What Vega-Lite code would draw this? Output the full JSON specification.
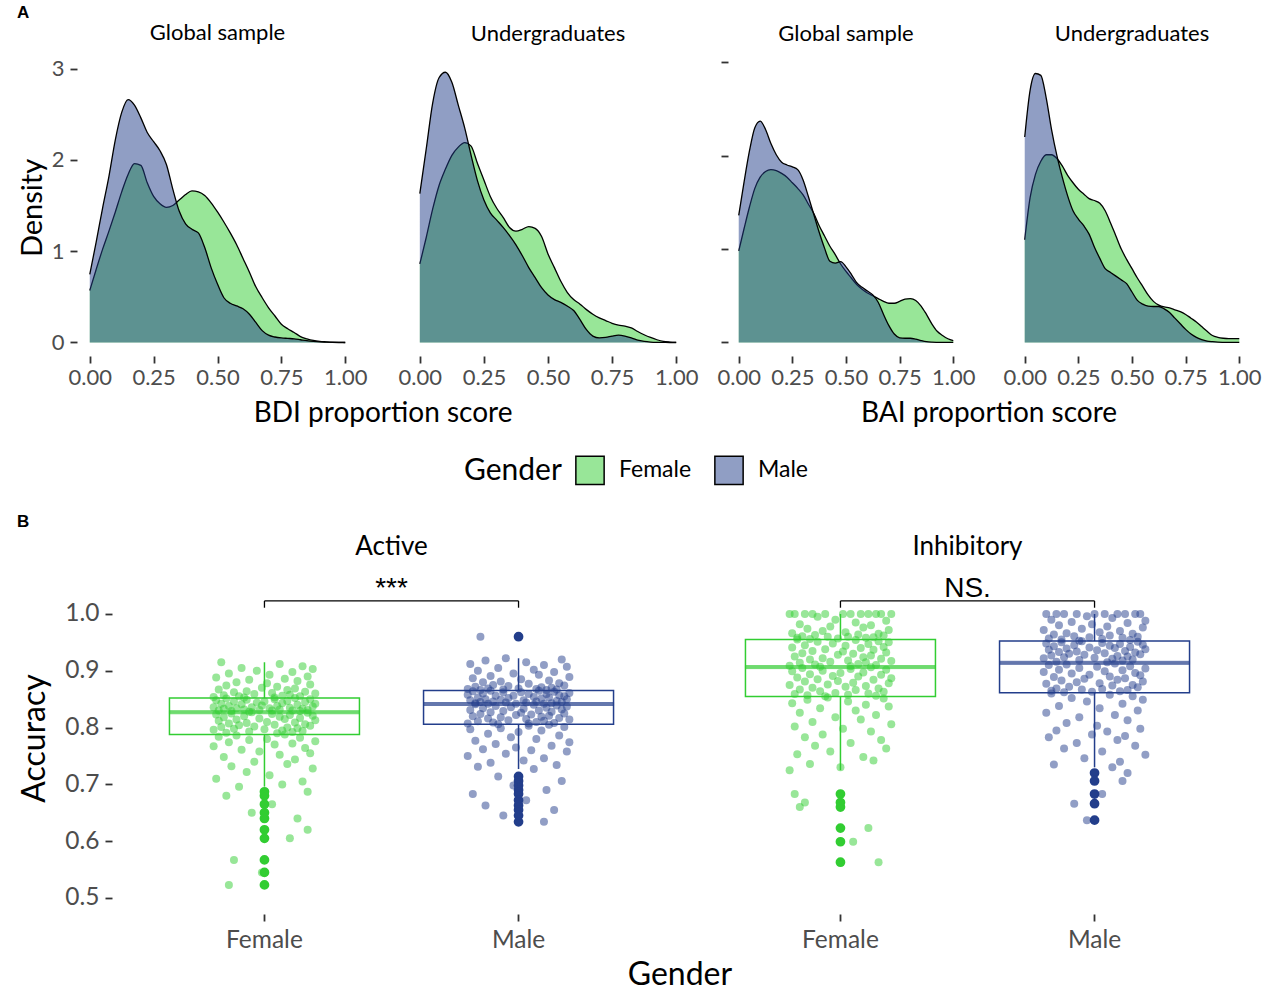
{
"$schema":"https://vega.github.io/schema/vega-lite/v6.json",
"padding":{"left":17,"top":3,"right":0,"bottom":0},
"align":"none",
"config":{"font":"Lato","view":{"stroke":null},
"axis":{"domain":false,"grid":false,"tickColor":"#333333","tickWidth":1.8,"labelColor":"#4D4D4D","titleColor":"#000000","titleFontWeight":"normal","labelFont":"Lato","titleFont":"Lato"},
"title":{"font":"Lato","fontWeight":"normal","color":"#000000"},
"legend":{"labelFont":"Lato","titleFont":"Lato"}},
"datasets":{
"p1":[
{"g":"F","x":0,"d":0.57},{"g":"F","x":0.025,"d":0.8},{"g":"F","x":0.05,"d":1.02},{"g":"F","x":0.075,"d":1.22},{"g":"F","x":0.1,"d":1.43},{"g":"F","x":0.125,"d":1.65},{"g":"F","x":0.15,"d":1.84},{"g":"F","x":0.175,"d":1.96},{"g":"F","x":0.2,"d":1.94},{"g":"F","x":0.225,"d":1.75},{"g":"F","x":0.25,"d":1.6},{"g":"F","x":0.275,"d":1.52},{"g":"F","x":0.3,"d":1.48},{"g":"F","x":0.325,"d":1.5},{"g":"F","x":0.35,"d":1.56},{"g":"F","x":0.375,"d":1.62},{"g":"F","x":0.4,"d":1.66},{"g":"F","x":0.425,"d":1.65},{"g":"F","x":0.45,"d":1.61},{"g":"F","x":0.475,"d":1.53},{"g":"F","x":0.5,"d":1.43},{"g":"F","x":0.525,"d":1.32},{"g":"F","x":0.55,"d":1.2},{"g":"F","x":0.575,"d":1.07},{"g":"F","x":0.6,"d":0.92},{"g":"F","x":0.625,"d":0.77},{"g":"F","x":0.65,"d":0.61},{"g":"F","x":0.675,"d":0.49},{"g":"F","x":0.7,"d":0.38},{"g":"F","x":0.725,"d":0.29},{"g":"F","x":0.75,"d":0.2},{"g":"F","x":0.775,"d":0.15},{"g":"F","x":0.8,"d":0.11},{"g":"F","x":0.825,"d":0.065},{"g":"F","x":0.85,"d":0.04},{"g":"F","x":0.875,"d":0.022},{"g":"F","x":0.9,"d":0.012},{"g":"F","x":0.925,"d":0.007},{"g":"F","x":0.95,"d":0.003},{"g":"F","x":0.975,"d":0.001},{"g":"F","x":1,"d":0},
{"g":"M","x":0,"d":0.745},{"g":"M","x":0.025,"d":1.1},{"g":"M","x":0.05,"d":1.47},{"g":"M","x":0.075,"d":1.82},{"g":"M","x":0.1,"d":2.22},{"g":"M","x":0.125,"d":2.52},{"g":"M","x":0.15,"d":2.66},{"g":"M","x":0.175,"d":2.6},{"g":"M","x":0.2,"d":2.46},{"g":"M","x":0.225,"d":2.3},{"g":"M","x":0.25,"d":2.2},{"g":"M","x":0.275,"d":2.1},{"g":"M","x":0.3,"d":1.95},{"g":"M","x":0.325,"d":1.68},{"g":"M","x":0.35,"d":1.44},{"g":"M","x":0.375,"d":1.3},{"g":"M","x":0.4,"d":1.24},{"g":"M","x":0.425,"d":1.2},{"g":"M","x":0.45,"d":1.04},{"g":"M","x":0.475,"d":0.82},{"g":"M","x":0.5,"d":0.64},{"g":"M","x":0.525,"d":0.49},{"g":"M","x":0.55,"d":0.43},{"g":"M","x":0.575,"d":0.4},{"g":"M","x":0.6,"d":0.37},{"g":"M","x":0.625,"d":0.31},{"g":"M","x":0.65,"d":0.22},{"g":"M","x":0.675,"d":0.13},{"g":"M","x":0.7,"d":0.08},{"g":"M","x":0.725,"d":0.06},{"g":"M","x":0.75,"d":0.05},{"g":"M","x":0.775,"d":0.045},{"g":"M","x":0.8,"d":0.04},{"g":"M","x":0.825,"d":0.03},{"g":"M","x":0.85,"d":0.02},{"g":"M","x":0.875,"d":0.012},{"g":"M","x":0.9,"d":0.006},{"g":"M","x":0.925,"d":0.003},{"g":"M","x":0.95,"d":0.001},{"g":"M","x":0.975,"d":0},{"g":"M","x":1,"d":0}],
"p2":[
{"g":"F","x":0,"d":0.86},{"g":"F","x":0.025,"d":1.15},{"g":"F","x":0.05,"d":1.46},{"g":"F","x":0.075,"d":1.72},{"g":"F","x":0.1,"d":1.9},{"g":"F","x":0.125,"d":2.05},{"g":"F","x":0.15,"d":2.14},{"g":"F","x":0.175,"d":2.19},{"g":"F","x":0.2,"d":2.15},{"g":"F","x":0.225,"d":1.96},{"g":"F","x":0.25,"d":1.78},{"g":"F","x":0.275,"d":1.6},{"g":"F","x":0.3,"d":1.47},{"g":"F","x":0.325,"d":1.37},{"g":"F","x":0.35,"d":1.26},{"g":"F","x":0.375,"d":1.22},{"g":"F","x":0.4,"d":1.24},{"g":"F","x":0.425,"d":1.27},{"g":"F","x":0.45,"d":1.25},{"g":"F","x":0.475,"d":1.16},{"g":"F","x":0.5,"d":0.97},{"g":"F","x":0.525,"d":0.82},{"g":"F","x":0.55,"d":0.67},{"g":"F","x":0.575,"d":0.55},{"g":"F","x":0.6,"d":0.47},{"g":"F","x":0.625,"d":0.42},{"g":"F","x":0.65,"d":0.36},{"g":"F","x":0.675,"d":0.31},{"g":"F","x":0.7,"d":0.27},{"g":"F","x":0.725,"d":0.24},{"g":"F","x":0.75,"d":0.21},{"g":"F","x":0.775,"d":0.19},{"g":"F","x":0.8,"d":0.18},{"g":"F","x":0.825,"d":0.16},{"g":"F","x":0.85,"d":0.12},{"g":"F","x":0.875,"d":0.085},{"g":"F","x":0.9,"d":0.055},{"g":"F","x":0.925,"d":0.03},{"g":"F","x":0.95,"d":0.012},{"g":"F","x":0.975,"d":0.005},{"g":"F","x":1,"d":0.002},
{"g":"M","x":0,"d":1.63},{"g":"M","x":0.025,"d":2.12},{"g":"M","x":0.05,"d":2.62},{"g":"M","x":0.075,"d":2.9},{"g":"M","x":0.1,"d":2.96},{"g":"M","x":0.125,"d":2.85},{"g":"M","x":0.15,"d":2.6},{"g":"M","x":0.175,"d":2.35},{"g":"M","x":0.2,"d":2.05},{"g":"M","x":0.225,"d":1.77},{"g":"M","x":0.25,"d":1.56},{"g":"M","x":0.275,"d":1.42},{"g":"M","x":0.3,"d":1.34},{"g":"M","x":0.325,"d":1.26},{"g":"M","x":0.35,"d":1.17},{"g":"M","x":0.375,"d":1.07},{"g":"M","x":0.4,"d":0.95},{"g":"M","x":0.425,"d":0.82},{"g":"M","x":0.45,"d":0.71},{"g":"M","x":0.475,"d":0.6},{"g":"M","x":0.5,"d":0.52},{"g":"M","x":0.525,"d":0.47},{"g":"M","x":0.55,"d":0.44},{"g":"M","x":0.575,"d":0.4},{"g":"M","x":0.6,"d":0.35},{"g":"M","x":0.625,"d":0.25},{"g":"M","x":0.65,"d":0.14},{"g":"M","x":0.675,"d":0.07},{"g":"M","x":0.7,"d":0.05},{"g":"M","x":0.725,"d":0.055},{"g":"M","x":0.75,"d":0.07},{"g":"M","x":0.775,"d":0.08},{"g":"M","x":0.8,"d":0.07},{"g":"M","x":0.825,"d":0.05},{"g":"M","x":0.85,"d":0.025},{"g":"M","x":0.875,"d":0.012},{"g":"M","x":0.9,"d":0.005},{"g":"M","x":0.925,"d":0.002},{"g":"M","x":0.95,"d":0.001},{"g":"M","x":0.975,"d":0},{"g":"M","x":1,"d":0}],
"p3":[
{"g":"F","x":0,"d":0.98},{"g":"F","x":0.025,"d":1.22},{"g":"F","x":0.05,"d":1.45},{"g":"F","x":0.075,"d":1.65},{"g":"F","x":0.1,"d":1.77},{"g":"F","x":0.125,"d":1.83},{"g":"F","x":0.15,"d":1.85},{"g":"F","x":0.175,"d":1.84},{"g":"F","x":0.2,"d":1.81},{"g":"F","x":0.225,"d":1.77},{"g":"F","x":0.25,"d":1.71},{"g":"F","x":0.275,"d":1.65},{"g":"F","x":0.3,"d":1.58},{"g":"F","x":0.325,"d":1.48},{"g":"F","x":0.35,"d":1.38},{"g":"F","x":0.375,"d":1.25},{"g":"F","x":0.4,"d":1.14},{"g":"F","x":0.425,"d":1.03},{"g":"F","x":0.45,"d":0.94},{"g":"F","x":0.475,"d":0.84},{"g":"F","x":0.5,"d":0.76},{"g":"F","x":0.525,"d":0.69},{"g":"F","x":0.55,"d":0.62},{"g":"F","x":0.575,"d":0.57},{"g":"F","x":0.6,"d":0.53},{"g":"F","x":0.625,"d":0.5},{"g":"F","x":0.65,"d":0.47},{"g":"F","x":0.675,"d":0.44},{"g":"F","x":0.7,"d":0.42},{"g":"F","x":0.725,"d":0.42},{"g":"F","x":0.75,"d":0.44},{"g":"F","x":0.775,"d":0.465},{"g":"F","x":0.8,"d":0.47},{"g":"F","x":0.825,"d":0.45},{"g":"F","x":0.85,"d":0.39},{"g":"F","x":0.875,"d":0.3},{"g":"F","x":0.9,"d":0.2},{"g":"F","x":0.925,"d":0.12},{"g":"F","x":0.95,"d":0.075},{"g":"F","x":0.975,"d":0.04},{"g":"F","x":1,"d":0.02},
{"g":"M","x":0,"d":1.36},{"g":"M","x":0.025,"d":1.72},{"g":"M","x":0.05,"d":2.05},{"g":"M","x":0.075,"d":2.3},{"g":"M","x":0.1,"d":2.37},{"g":"M","x":0.125,"d":2.28},{"g":"M","x":0.15,"d":2.13},{"g":"M","x":0.175,"d":2.01},{"g":"M","x":0.2,"d":1.93},{"g":"M","x":0.225,"d":1.9},{"g":"M","x":0.25,"d":1.88},{"g":"M","x":0.275,"d":1.85},{"g":"M","x":0.3,"d":1.74},{"g":"M","x":0.325,"d":1.56},{"g":"M","x":0.35,"d":1.37},{"g":"M","x":0.375,"d":1.18},{"g":"M","x":0.4,"d":1.01},{"g":"M","x":0.425,"d":0.87},{"g":"M","x":0.45,"d":0.85},{"g":"M","x":0.475,"d":0.865},{"g":"M","x":0.5,"d":0.81},{"g":"M","x":0.525,"d":0.73},{"g":"M","x":0.55,"d":0.64},{"g":"M","x":0.575,"d":0.59},{"g":"M","x":0.6,"d":0.55},{"g":"M","x":0.625,"d":0.51},{"g":"M","x":0.65,"d":0.43},{"g":"M","x":0.675,"d":0.3},{"g":"M","x":0.7,"d":0.18},{"g":"M","x":0.725,"d":0.09},{"g":"M","x":0.75,"d":0.05},{"g":"M","x":0.775,"d":0.045},{"g":"M","x":0.8,"d":0.045},{"g":"M","x":0.825,"d":0.035},{"g":"M","x":0.85,"d":0.02},{"g":"M","x":0.875,"d":0.008},{"g":"M","x":0.9,"d":0.003},{"g":"M","x":0.925,"d":0.001},{"g":"M","x":0.95,"d":0},{"g":"M","x":0.975,"d":0},{"g":"M","x":1,"d":0}],
"p4":[
{"g":"F","x":0,"d":1.1},{"g":"F","x":0.025,"d":1.55},{"g":"F","x":0.05,"d":1.8},{"g":"F","x":0.075,"d":1.94},{"g":"F","x":0.1,"d":2.01},{"g":"F","x":0.125,"d":2.01},{"g":"F","x":0.15,"d":1.97},{"g":"F","x":0.175,"d":1.89},{"g":"F","x":0.2,"d":1.79},{"g":"F","x":0.225,"d":1.71},{"g":"F","x":0.25,"d":1.64},{"g":"F","x":0.275,"d":1.59},{"g":"F","x":0.3,"d":1.54},{"g":"F","x":0.325,"d":1.52},{"g":"F","x":0.35,"d":1.49},{"g":"F","x":0.375,"d":1.41},{"g":"F","x":0.4,"d":1.28},{"g":"F","x":0.425,"d":1.14},{"g":"F","x":0.45,"d":1.0},{"g":"F","x":0.475,"d":0.89},{"g":"F","x":0.5,"d":0.79},{"g":"F","x":0.525,"d":0.69},{"g":"F","x":0.55,"d":0.6},{"g":"F","x":0.575,"d":0.51},{"g":"F","x":0.6,"d":0.44},{"g":"F","x":0.625,"d":0.4},{"g":"F","x":0.65,"d":0.38},{"g":"F","x":0.675,"d":0.37},{"g":"F","x":0.7,"d":0.35},{"g":"F","x":0.725,"d":0.33},{"g":"F","x":0.75,"d":0.3},{"g":"F","x":0.775,"d":0.26},{"g":"F","x":0.8,"d":0.22},{"g":"F","x":0.825,"d":0.17},{"g":"F","x":0.85,"d":0.12},{"g":"F","x":0.875,"d":0.075},{"g":"F","x":0.9,"d":0.055},{"g":"F","x":0.925,"d":0.045},{"g":"F","x":0.95,"d":0.04},{"g":"F","x":0.975,"d":0.04},{"g":"F","x":1,"d":0.04},
{"g":"M","x":0,"d":2.2},{"g":"M","x":0.025,"d":2.7},{"g":"M","x":0.05,"d":2.88},{"g":"M","x":0.075,"d":2.86},{"g":"M","x":0.1,"d":2.62},{"g":"M","x":0.125,"d":2.28},{"g":"M","x":0.15,"d":2.0},{"g":"M","x":0.175,"d":1.77},{"g":"M","x":0.2,"d":1.57},{"g":"M","x":0.225,"d":1.41},{"g":"M","x":0.25,"d":1.32},{"g":"M","x":0.275,"d":1.25},{"g":"M","x":0.3,"d":1.16},{"g":"M","x":0.325,"d":1.02},{"g":"M","x":0.35,"d":0.9},{"g":"M","x":0.375,"d":0.79},{"g":"M","x":0.4,"d":0.75},{"g":"M","x":0.425,"d":0.71},{"g":"M","x":0.45,"d":0.67},{"g":"M","x":0.475,"d":0.63},{"g":"M","x":0.5,"d":0.54},{"g":"M","x":0.525,"d":0.45},{"g":"M","x":0.55,"d":0.41},{"g":"M","x":0.575,"d":0.39},{"g":"M","x":0.6,"d":0.385},{"g":"M","x":0.625,"d":0.385},{"g":"M","x":0.65,"d":0.36},{"g":"M","x":0.675,"d":0.32},{"g":"M","x":0.7,"d":0.26},{"g":"M","x":0.725,"d":0.2},{"g":"M","x":0.75,"d":0.14},{"g":"M","x":0.775,"d":0.09},{"g":"M","x":0.8,"d":0.055},{"g":"M","x":0.825,"d":0.03},{"g":"M","x":0.85,"d":0.015},{"g":"M","x":0.875,"d":0.008},{"g":"M","x":0.9,"d":0.003},{"g":"M","x":0.925,"d":0.001},{"g":"M","x":0.95,"d":0},{"g":"M","x":0.975,"d":0},{"g":"M","x":1,"d":0}],
"act":[
{"g":"F","a":0.915,"j":-0.17},{"g":"F","a":0.912,"j":0.06},{"g":"F","a":0.908,"j":0.15},{"g":"F","a":0.905,"j":-0.09},{"g":"F","a":0.903,"j":0.19},{"g":"F","a":0.9,"j":-0.03},{"g":"F","a":0.898,"j":0.11},{"g":"F","a":0.895,"j":-0.14},{"g":"F","a":0.893,"j":0.02},{"g":"F","a":0.89,"j":0.17},{"g":"F","a":0.888,"j":-0.19},{"g":"F","a":0.886,"j":0.08},{"g":"F","a":0.884,"j":-0.06},{"g":"F","a":0.882,"j":0.13},{"g":"F","a":0.88,"j":-0.11},{"g":"F","a":0.878,"j":0.01},{"g":"F","a":0.876,"j":0.18},{"g":"F","a":0.874,"j":-0.15},{"g":"F","a":0.872,"j":0.05},{"g":"F","a":0.87,"j":-0.01},{"g":"F","a":0.869,"j":0.12},{"g":"F","a":0.867,"j":-0.18},{"g":"F","a":0.866,"j":0.09},{"g":"F","a":0.864,"j":-0.07},{"g":"F","a":0.863,"j":0.16},{"g":"F","a":0.862,"j":-0.12},{"g":"F","a":0.861,"j":0.03},{"g":"F","a":0.86,"j":0.2},{"g":"F","a":0.859,"j":-0.04},{"g":"F","a":0.858,"j":0.1},{"g":"F","a":0.857,"j":-0.16},{"g":"F","a":0.856,"j":0.07},{"g":"F","a":0.855,"j":-0.1},{"g":"F","a":0.855,"j":0.14},{"g":"F","a":0.854,"j":-0.2},{"g":"F","a":0.853,"j":0.04},{"g":"F","a":0.853,"j":-0.08},
{"g":"F","a":0.852,"j":0.12},{"g":"F","a":0.851,"j":-0.15},{"g":"F","a":0.85,"j":0.04},{"g":"F","a":0.85,"j":0.18},{"g":"F","a":0.849,"j":-0.07},{"g":"F","a":0.848,"j":-0.19},{"g":"F","a":0.847,"j":0.09},{"g":"F","a":0.846,"j":0.0},{"g":"F","a":0.846,"j":-0.12},{"g":"F","a":0.845,"j":0.16},{"g":"F","a":0.844,"j":-0.03},{"g":"F","a":0.843,"j":0.07},{"g":"F","a":0.842,"j":-0.17},{"g":"F","a":0.842,"j":0.2},{"g":"F","a":0.841,"j":-0.09},{"g":"F","a":0.84,"j":0.13},{"g":"F","a":0.839,"j":-0.01},{"g":"F","a":0.838,"j":-0.14},{"g":"F","a":0.838,"j":0.05},{"g":"F","a":0.837,"j":0.19},{"g":"F","a":0.836,"j":-0.05},{"g":"F","a":0.836,"j":-0.2},{"g":"F","a":0.835,"j":0.1},{"g":"F","a":0.834,"j":0.02},{"g":"F","a":0.834,"j":-0.11},{"g":"F","a":0.833,"j":0.15},{"g":"F","a":0.833,"j":-0.16},{"g":"F","a":0.832,"j":0.06},{"g":"F","a":0.832,"j":-0.08},{"g":"F","a":0.831,"j":0.17},{"g":"F","a":0.831,"j":-0.02},{"g":"F","a":0.83,"j":0.11},{"g":"F","a":0.83,"j":-0.18},{"g":"F","a":0.83,"j":0.03},{"g":"F","a":0.829,"j":-0.13},{"g":"F","a":0.829,"j":0.14},{"g":"F","a":0.828,"j":-0.06},
{"g":"F","a":0.827,"j":-0.05},{"g":"F","a":0.826,"j":0.17},{"g":"F","a":0.825,"j":-0.13},{"g":"F","a":0.824,"j":0.03},{"g":"F","a":0.823,"j":-0.19},{"g":"F","a":0.822,"j":0.1},{"g":"F","a":0.821,"j":0.19},{"g":"F","a":0.82,"j":-0.08},{"g":"F","a":0.819,"j":0.06},{"g":"F","a":0.818,"j":-0.16},{"g":"F","a":0.817,"j":0.14},{"g":"F","a":0.816,"j":-0.02},{"g":"F","a":0.815,"j":0.08},{"g":"F","a":0.814,"j":-0.11},{"g":"F","a":0.813,"j":0.2},{"g":"F","a":0.812,"j":-0.18},{"g":"F","a":0.81,"j":0.01},{"g":"F","a":0.809,"j":0.12},{"g":"F","a":0.808,"j":-0.07},{"g":"F","a":0.807,"j":-0.14},{"g":"F","a":0.806,"j":0.16},{"g":"F","a":0.805,"j":0.04},{"g":"F","a":0.804,"j":-0.1},{"g":"F","a":0.803,"j":0.18},{"g":"F","a":0.802,"j":-0.04},{"g":"F","a":0.801,"j":-0.17},{"g":"F","a":0.8,"j":0.09},{"g":"F","a":0.799,"j":0.13},{"g":"F","a":0.798,"j":-0.12},{"g":"F","a":0.797,"j":0.0},{"g":"F","a":0.796,"j":-0.2},{"g":"F","a":0.795,"j":0.07},{"g":"F","a":0.794,"j":0.15},{"g":"F","a":0.793,"j":-0.06},{"g":"F","a":0.792,"j":0.11},{"g":"F","a":0.791,"j":-0.15},{"g":"F","a":0.79,"j":0.05},
{"g":"F","a":0.788,"j":0.08},{"g":"F","a":0.786,"j":-0.11},{"g":"F","a":0.784,"j":-0.18},{"g":"F","a":0.782,"j":0.14},{"g":"F","a":0.78,"j":0.01},{"g":"F","a":0.778,"j":-0.06},{"g":"F","a":0.776,"j":0.2},{"g":"F","a":0.774,"j":-0.14},{"g":"F","a":0.772,"j":0.11},{"g":"F","a":0.77,"j":0.04},{"g":"F","a":0.767,"j":-0.2},{"g":"F","a":0.764,"j":0.16},{"g":"F","a":0.761,"j":-0.09},{"g":"F","a":0.758,"j":-0.02},{"g":"F","a":0.755,"j":0.18},{"g":"F","a":0.752,"j":0.06},{"g":"F","a":0.748,"j":-0.16},{"g":"F","a":0.744,"j":0.12},{"g":"F","a":0.74,"j":-0.04},{"g":"F","a":0.736,"j":0.09},{"g":"F","a":0.732,"j":-0.13},{"g":"F","a":0.728,"j":0.19},{"g":"F","a":0.722,"j":-0.07},{"g":"F","a":0.716,"j":0.02},{"g":"F","a":0.71,"j":-0.19},{"g":"F","a":0.705,"j":0.15},{"g":"F","a":0.7,"j":0.07},{"g":"F","a":0.696,"j":-0.1},{"g":"F","a":0.687,"j":0.17},{"g":"F","a":0.68,"j":-0.15},{"g":"F","a":0.665,"j":0.03},{"g":"F","a":0.65,"j":-0.05},{"g":"F","a":0.64,"j":0.13},{"g":"F","a":0.62,"j":0.17},{"g":"F","a":0.605,"j":0.1},{"g":"F","a":0.567,"j":-0.12},{"g":"F","a":0.545,"j":-0.01},{"g":"F","a":0.523,"j":-0.14},
{"g":"M","a":0.922,"j":-0.05},{"g":"M","a":0.92,"j":0.17},{"g":"M","a":0.918,"j":-0.13},{"g":"M","a":0.915,"j":0.03},{"g":"M","a":0.912,"j":-0.19},{"g":"M","a":0.91,"j":0.1},{"g":"M","a":0.907,"j":0.19},{"g":"M","a":0.905,"j":-0.08},{"g":"M","a":0.902,"j":0.06},{"g":"M","a":0.9,"j":-0.16},{"g":"M","a":0.898,"j":0.14},{"g":"M","a":0.895,"j":-0.02},{"g":"M","a":0.893,"j":0.08},{"g":"M","a":0.891,"j":-0.11},{"g":"M","a":0.889,"j":0.2},{"g":"M","a":0.887,"j":-0.18},{"g":"M","a":0.885,"j":0.01},{"g":"M","a":0.883,"j":0.12},{"g":"M","a":0.881,"j":-0.07},{"g":"M","a":0.88,"j":-0.14},{"g":"M","a":0.878,"j":0.16},{"g":"M","a":0.877,"j":0.04},{"g":"M","a":0.875,"j":-0.1},{"g":"M","a":0.874,"j":0.18},{"g":"M","a":0.873,"j":-0.04},{"g":"M","a":0.872,"j":-0.17},{"g":"M","a":0.871,"j":0.09},{"g":"M","a":0.87,"j":0.13},{"g":"M","a":0.869,"j":-0.12},{"g":"M","a":0.869,"j":0.0},{"g":"M","a":0.868,"j":-0.2},{"g":"M","a":0.868,"j":0.07},{"g":"M","a":0.867,"j":0.15},{"g":"M","a":0.867,"j":-0.06},{"g":"M","a":0.866,"j":0.11},{"g":"M","a":0.866,"j":-0.15},
{"g":"M","a":0.865,"j":0.08},{"g":"M","a":0.865,"j":-0.11},{"g":"M","a":0.864,"j":-0.18},{"g":"M","a":0.863,"j":0.14},{"g":"M","a":0.862,"j":0.01},{"g":"M","a":0.862,"j":-0.06},{"g":"M","a":0.861,"j":0.2},{"g":"M","a":0.86,"j":-0.14},{"g":"M","a":0.859,"j":0.11},{"g":"M","a":0.859,"j":0.04},{"g":"M","a":0.858,"j":-0.2},{"g":"M","a":0.857,"j":0.16},{"g":"M","a":0.856,"j":-0.09},{"g":"M","a":0.856,"j":-0.02},{"g":"M","a":0.855,"j":0.18},{"g":"M","a":0.854,"j":0.06},{"g":"M","a":0.853,"j":-0.16},{"g":"M","a":0.853,"j":0.12},{"g":"M","a":0.852,"j":-0.04},{"g":"M","a":0.851,"j":0.09},{"g":"M","a":0.85,"j":-0.13},{"g":"M","a":0.85,"j":0.19},{"g":"M","a":0.849,"j":-0.07},{"g":"M","a":0.848,"j":0.02},{"g":"M","a":0.848,"j":-0.19},{"g":"M","a":0.847,"j":0.15},{"g":"M","a":0.846,"j":0.07},{"g":"M","a":0.846,"j":-0.1},{"g":"M","a":0.845,"j":0.17},{"g":"M","a":0.845,"j":-0.15},{"g":"M","a":0.844,"j":0.03},{"g":"M","a":0.844,"j":-0.05},{"g":"M","a":0.843,"j":0.13},{"g":"M","a":0.843,"j":-0.17},{"g":"M","a":0.842,"j":0.1},{"g":"M","a":0.842,"j":-0.01},{"g":"M","a":0.842,"j":-0.12},
{"g":"M","a":0.841,"j":-0.17},{"g":"M","a":0.84,"j":0.06},{"g":"M","a":0.839,"j":0.15},{"g":"M","a":0.838,"j":-0.09},{"g":"M","a":0.837,"j":0.19},{"g":"M","a":0.836,"j":-0.03},{"g":"M","a":0.835,"j":0.11},{"g":"M","a":0.834,"j":-0.14},{"g":"M","a":0.833,"j":0.02},{"g":"M","a":0.832,"j":0.17},{"g":"M","a":0.831,"j":-0.19},{"g":"M","a":0.83,"j":0.08},{"g":"M","a":0.829,"j":-0.06},{"g":"M","a":0.828,"j":0.13},{"g":"M","a":0.827,"j":-0.11},{"g":"M","a":0.826,"j":0.01},{"g":"M","a":0.825,"j":0.18},{"g":"M","a":0.824,"j":-0.15},{"g":"M","a":0.823,"j":0.05},{"g":"M","a":0.822,"j":-0.01},{"g":"M","a":0.821,"j":0.12},{"g":"M","a":0.82,"j":-0.18},{"g":"M","a":0.819,"j":0.09},{"g":"M","a":0.818,"j":-0.07},{"g":"M","a":0.817,"j":0.16},{"g":"M","a":0.816,"j":-0.12},{"g":"M","a":0.815,"j":0.03},{"g":"M","a":0.814,"j":0.2},{"g":"M","a":0.813,"j":-0.04},{"g":"M","a":0.812,"j":0.1},{"g":"M","a":0.811,"j":-0.16},{"g":"M","a":0.81,"j":0.07},{"g":"M","a":0.809,"j":-0.1},{"g":"M","a":0.808,"j":0.14},{"g":"M","a":0.807,"j":-0.2},{"g":"M","a":0.807,"j":0.04},{"g":"M","a":0.806,"j":-0.08},
{"g":"M","a":0.96,"j":-0.15},{"g":"M","a":0.805,"j":0.12},{"g":"M","a":0.803,"j":0.04},{"g":"M","a":0.801,"j":0.18},{"g":"M","a":0.799,"j":-0.07},{"g":"M","a":0.797,"j":-0.19},{"g":"M","a":0.795,"j":0.09},{"g":"M","a":0.792,"j":0.0},{"g":"M","a":0.789,"j":-0.12},{"g":"M","a":0.786,"j":0.16},{"g":"M","a":0.783,"j":-0.03},{"g":"M","a":0.78,"j":0.07},{"g":"M","a":0.777,"j":-0.17},{"g":"M","a":0.774,"j":0.2},{"g":"M","a":0.771,"j":-0.09},{"g":"M","a":0.768,"j":0.13},{"g":"M","a":0.765,"j":-0.01},{"g":"M","a":0.762,"j":-0.14},{"g":"M","a":0.76,"j":0.05},{"g":"M","a":0.758,"j":0.19},{"g":"M","a":0.754,"j":-0.05},{"g":"M","a":0.75,"j":-0.2},{"g":"M","a":0.746,"j":0.1},{"g":"M","a":0.742,"j":0.02},{"g":"M","a":0.738,"j":-0.11},{"g":"M","a":0.734,"j":0.15},{"g":"M","a":0.731,"j":-0.16},{"g":"M","a":0.727,"j":0.06},{"g":"M","a":0.714,"j":-0.08},{"g":"M","a":0.706,"j":0.17},{"g":"M","a":0.698,"j":-0.02},{"g":"M","a":0.69,"j":0.11},{"g":"M","a":0.683,"j":-0.18},{"g":"M","a":0.672,"j":0.03},{"g":"M","a":0.663,"j":-0.13},{"g":"M","a":0.655,"j":0.14},{"g":"M","a":0.645,"j":-0.06},{"g":"M","a":0.634,"j":0.1}],
"inh":[
{"g":"F","a":1.0,"j":0.08},{"g":"F","a":1.0,"j":-0.11},{"g":"F","a":1.0,"j":-0.18},{"g":"F","a":1.0,"j":0.14},{"g":"F","a":1.0,"j":0.01},{"g":"F","a":1.0,"j":-0.06},{"g":"F","a":1.0,"j":0.2},{"g":"F","a":1.0,"j":-0.14},{"g":"F","a":1.0,"j":0.11},{"g":"F","a":1.0,"j":0.04},{"g":"F","a":1.0,"j":-0.2},{"g":"F","a":1.0,"j":0.16},{"g":"F","a":0.995,"j":-0.09},{"g":"F","a":0.99,"j":-0.02},{"g":"F","a":0.988,"j":0.18},{"g":"F","a":0.985,"j":0.06},{"g":"F","a":0.982,"j":-0.16},{"g":"F","a":0.98,"j":0.12},{"g":"F","a":0.978,"j":-0.04},{"g":"F","a":0.976,"j":0.09},{"g":"F","a":0.974,"j":-0.13},{"g":"F","a":0.972,"j":0.19},{"g":"F","a":0.97,"j":-0.07},{"g":"F","a":0.968,"j":0.02},{"g":"F","a":0.966,"j":-0.19},{"g":"F","a":0.965,"j":0.15},{"g":"F","a":0.964,"j":0.07},{"g":"F","a":0.963,"j":-0.1},{"g":"F","a":0.962,"j":0.17},{"g":"F","a":0.961,"j":-0.15},{"g":"F","a":0.96,"j":0.03},{"g":"F","a":0.96,"j":-0.05},{"g":"F","a":0.959,"j":0.13},{"g":"F","a":0.958,"j":-0.17},{"g":"F","a":0.958,"j":0.1},{"g":"F","a":0.957,"j":-0.01},{"g":"F","a":0.956,"j":-0.12},
{"g":"F","a":0.955,"j":-0.17},{"g":"F","a":0.954,"j":0.06},{"g":"F","a":0.952,"j":0.15},{"g":"F","a":0.951,"j":-0.09},{"g":"F","a":0.95,"j":0.19},{"g":"F","a":0.948,"j":-0.03},{"g":"F","a":0.947,"j":0.11},{"g":"F","a":0.945,"j":-0.14},{"g":"F","a":0.944,"j":0.02},{"g":"F","a":0.942,"j":0.17},{"g":"F","a":0.941,"j":-0.19},{"g":"F","a":0.94,"j":0.08},{"g":"F","a":0.938,"j":-0.06},{"g":"F","a":0.937,"j":0.13},{"g":"F","a":0.935,"j":-0.11},{"g":"F","a":0.934,"j":0.01},{"g":"F","a":0.932,"j":0.18},{"g":"F","a":0.931,"j":-0.15},{"g":"F","a":0.93,"j":0.05},{"g":"F","a":0.928,"j":-0.01},{"g":"F","a":0.927,"j":0.12},{"g":"F","a":0.925,"j":-0.18},{"g":"F","a":0.924,"j":0.09},{"g":"F","a":0.922,"j":-0.07},{"g":"F","a":0.921,"j":0.16},{"g":"F","a":0.92,"j":-0.12},{"g":"F","a":0.918,"j":0.03},{"g":"F","a":0.917,"j":0.2},{"g":"F","a":0.916,"j":-0.04},{"g":"F","a":0.915,"j":0.1},{"g":"F","a":0.914,"j":-0.16},{"g":"F","a":0.912,"j":0.07},{"g":"F","a":0.911,"j":-0.1},{"g":"F","a":0.91,"j":0.14},{"g":"F","a":0.909,"j":-0.2},{"g":"F","a":0.908,"j":0.04},{"g":"F","a":0.907,"j":-0.08},
{"g":"F","a":0.906,"j":0.12},{"g":"F","a":0.905,"j":-0.15},{"g":"F","a":0.903,"j":0.04},{"g":"F","a":0.902,"j":0.18},{"g":"F","a":0.9,"j":-0.07},{"g":"F","a":0.899,"j":-0.19},{"g":"F","a":0.897,"j":0.09},{"g":"F","a":0.896,"j":0.0},{"g":"F","a":0.894,"j":-0.12},{"g":"F","a":0.893,"j":0.16},{"g":"F","a":0.891,"j":-0.03},{"g":"F","a":0.89,"j":0.07},{"g":"F","a":0.888,"j":-0.17},{"g":"F","a":0.887,"j":0.2},{"g":"F","a":0.885,"j":-0.09},{"g":"F","a":0.884,"j":0.13},{"g":"F","a":0.882,"j":-0.01},{"g":"F","a":0.881,"j":-0.14},{"g":"F","a":0.879,"j":0.05},{"g":"F","a":0.878,"j":0.19},{"g":"F","a":0.876,"j":-0.05},{"g":"F","a":0.875,"j":-0.2},{"g":"F","a":0.873,"j":0.1},{"g":"F","a":0.872,"j":0.02},{"g":"F","a":0.87,"j":-0.11},{"g":"F","a":0.869,"j":0.15},{"g":"F","a":0.867,"j":-0.16},{"g":"F","a":0.866,"j":0.06},{"g":"F","a":0.864,"j":-0.08},{"g":"F","a":0.863,"j":0.17},{"g":"F","a":0.861,"j":-0.02},{"g":"F","a":0.86,"j":0.11},{"g":"F","a":0.859,"j":-0.18},{"g":"F","a":0.858,"j":0.03},{"g":"F","a":0.857,"j":-0.13},{"g":"F","a":0.856,"j":0.14},{"g":"F","a":0.855,"j":-0.06},
{"g":"F","a":0.853,"j":-0.05},{"g":"F","a":0.851,"j":0.17},{"g":"F","a":0.849,"j":-0.13},{"g":"F","a":0.846,"j":0.03},{"g":"F","a":0.843,"j":-0.19},{"g":"F","a":0.84,"j":0.1},{"g":"F","a":0.837,"j":0.19},{"g":"F","a":0.834,"j":-0.08},{"g":"F","a":0.83,"j":0.06},{"g":"F","a":0.826,"j":-0.16},{"g":"F","a":0.822,"j":0.14},{"g":"F","a":0.818,"j":-0.02},{"g":"F","a":0.814,"j":0.08},{"g":"F","a":0.81,"j":-0.11},{"g":"F","a":0.806,"j":0.2},{"g":"F","a":0.802,"j":-0.18},{"g":"F","a":0.798,"j":0.01},{"g":"F","a":0.793,"j":0.12},{"g":"F","a":0.788,"j":-0.07},{"g":"F","a":0.783,"j":-0.14},{"g":"F","a":0.778,"j":0.16},{"g":"F","a":0.773,"j":0.04},{"g":"F","a":0.768,"j":-0.1},{"g":"F","a":0.763,"j":0.18},{"g":"F","a":0.758,"j":-0.04},{"g":"F","a":0.753,"j":-0.17},{"g":"F","a":0.748,"j":0.09},{"g":"F","a":0.742,"j":0.13},{"g":"F","a":0.736,"j":-0.12},{"g":"F","a":0.73,"j":0.0},{"g":"F","a":0.725,"j":-0.2},{"g":"F","a":0.683,"j":-0.18},{"g":"F","a":0.668,"j":-0.14},{"g":"F","a":0.66,"j":-0.16},{"g":"F","a":0.623,"j":0.11},{"g":"F","a":0.599,"j":0.05},{"g":"F","a":0.563,"j":0.15},
{"g":"M","a":1.0,"j":0.12},{"g":"M","a":1.0,"j":-0.15},{"g":"M","a":1.0,"j":0.04},{"g":"M","a":1.0,"j":0.18},{"g":"M","a":1.0,"j":-0.07},{"g":"M","a":1.0,"j":-0.19},{"g":"M","a":1.0,"j":0.09},{"g":"M","a":1.0,"j":0.0},{"g":"M","a":1.0,"j":-0.12},{"g":"M","a":1.0,"j":0.16},{"g":"M","a":0.996,"j":-0.03},{"g":"M","a":0.993,"j":0.07},{"g":"M","a":0.99,"j":-0.17},{"g":"M","a":0.988,"j":0.2},{"g":"M","a":0.986,"j":-0.09},{"g":"M","a":0.984,"j":0.13},{"g":"M","a":0.982,"j":-0.01},{"g":"M","a":0.98,"j":-0.14},{"g":"M","a":0.978,"j":0.05},{"g":"M","a":0.976,"j":0.19},{"g":"M","a":0.974,"j":-0.05},{"g":"M","a":0.972,"j":-0.2},{"g":"M","a":0.97,"j":0.1},{"g":"M","a":0.968,"j":0.02},{"g":"M","a":0.966,"j":-0.11},{"g":"M","a":0.965,"j":0.15},{"g":"M","a":0.964,"j":-0.16},{"g":"M","a":0.962,"j":0.06},{"g":"M","a":0.961,"j":-0.08},{"g":"M","a":0.96,"j":0.17},{"g":"M","a":0.959,"j":-0.02},{"g":"M","a":0.958,"j":0.11},{"g":"M","a":0.957,"j":-0.18},{"g":"M","a":0.956,"j":0.03},{"g":"M","a":0.955,"j":-0.13},{"g":"M","a":0.954,"j":0.14},{"g":"M","a":0.953,"j":-0.06},
{"g":"M","a":0.952,"j":-0.05},{"g":"M","a":0.951,"j":0.17},{"g":"M","a":0.95,"j":-0.13},{"g":"M","a":0.949,"j":0.03},{"g":"M","a":0.948,"j":-0.19},{"g":"M","a":0.947,"j":0.1},{"g":"M","a":0.946,"j":0.19},{"g":"M","a":0.945,"j":-0.08},{"g":"M","a":0.944,"j":0.06},{"g":"M","a":0.943,"j":-0.16},{"g":"M","a":0.942,"j":0.14},{"g":"M","a":0.941,"j":-0.02},{"g":"M","a":0.94,"j":0.08},{"g":"M","a":0.939,"j":-0.11},{"g":"M","a":0.938,"j":0.2},{"g":"M","a":0.937,"j":-0.18},{"g":"M","a":0.936,"j":0.01},{"g":"M","a":0.935,"j":0.12},{"g":"M","a":0.934,"j":-0.07},{"g":"M","a":0.933,"j":-0.14},{"g":"M","a":0.932,"j":0.16},{"g":"M","a":0.931,"j":0.04},{"g":"M","a":0.93,"j":-0.1},{"g":"M","a":0.929,"j":0.18},{"g":"M","a":0.928,"j":-0.04},{"g":"M","a":0.927,"j":-0.17},{"g":"M","a":0.926,"j":0.09},{"g":"M","a":0.925,"j":0.13},{"g":"M","a":0.924,"j":-0.12},{"g":"M","a":0.923,"j":0.0},{"g":"M","a":0.922,"j":-0.2},{"g":"M","a":0.921,"j":0.07},{"g":"M","a":0.92,"j":0.15},{"g":"M","a":0.919,"j":-0.06},{"g":"M","a":0.918,"j":0.11},{"g":"M","a":0.916,"j":-0.15},{"g":"M","a":0.915,"j":0.05},
{"g":"M","a":0.913,"j":0.08},{"g":"M","a":0.911,"j":-0.11},{"g":"M","a":0.91,"j":-0.18},{"g":"M","a":0.908,"j":0.14},{"g":"M","a":0.907,"j":0.01},{"g":"M","a":0.905,"j":-0.06},{"g":"M","a":0.904,"j":0.2},{"g":"M","a":0.902,"j":-0.14},{"g":"M","a":0.901,"j":0.11},{"g":"M","a":0.899,"j":0.04},{"g":"M","a":0.898,"j":-0.2},{"g":"M","a":0.896,"j":0.16},{"g":"M","a":0.895,"j":-0.09},{"g":"M","a":0.893,"j":-0.02},{"g":"M","a":0.892,"j":0.18},{"g":"M","a":0.89,"j":0.06},{"g":"M","a":0.889,"j":-0.16},{"g":"M","a":0.887,"j":0.12},{"g":"M","a":0.886,"j":-0.04},{"g":"M","a":0.884,"j":0.09},{"g":"M","a":0.883,"j":-0.13},{"g":"M","a":0.881,"j":0.19},{"g":"M","a":0.88,"j":-0.07},{"g":"M","a":0.878,"j":0.02},{"g":"M","a":0.877,"j":-0.19},{"g":"M","a":0.875,"j":0.15},{"g":"M","a":0.874,"j":0.07},{"g":"M","a":0.872,"j":-0.1},{"g":"M","a":0.871,"j":0.17},{"g":"M","a":0.869,"j":-0.15},{"g":"M","a":0.868,"j":0.03},{"g":"M","a":0.867,"j":-0.05},{"g":"M","a":0.866,"j":0.13},{"g":"M","a":0.865,"j":-0.17},{"g":"M","a":0.864,"j":0.1},{"g":"M","a":0.863,"j":-0.01},{"g":"M","a":0.862,"j":-0.12},
{"g":"M","a":0.86,"j":-0.17},{"g":"M","a":0.858,"j":0.06},{"g":"M","a":0.855,"j":0.15},{"g":"M","a":0.852,"j":-0.09},{"g":"M","a":0.849,"j":0.19},{"g":"M","a":0.846,"j":-0.03},{"g":"M","a":0.842,"j":0.11},{"g":"M","a":0.838,"j":-0.14},{"g":"M","a":0.834,"j":0.02},{"g":"M","a":0.83,"j":0.17},{"g":"M","a":0.826,"j":-0.19},{"g":"M","a":0.822,"j":0.08},{"g":"M","a":0.818,"j":-0.06},{"g":"M","a":0.813,"j":0.13},{"g":"M","a":0.808,"j":-0.11},{"g":"M","a":0.803,"j":0.01},{"g":"M","a":0.798,"j":0.18},{"g":"M","a":0.795,"j":-0.15},{"g":"M","a":0.793,"j":0.05},{"g":"M","a":0.788,"j":-0.01},{"g":"M","a":0.785,"j":0.12},{"g":"M","a":0.783,"j":-0.18},{"g":"M","a":0.778,"j":0.09},{"g":"M","a":0.773,"j":-0.07},{"g":"M","a":0.768,"j":0.16},{"g":"M","a":0.763,"j":-0.12},{"g":"M","a":0.758,"j":0.03},{"g":"M","a":0.752,"j":0.2},{"g":"M","a":0.746,"j":-0.04},{"g":"M","a":0.74,"j":0.1},{"g":"M","a":0.735,"j":-0.16},{"g":"M","a":0.73,"j":0.07},{"g":"M","a":0.72,"j":0.13},{"g":"M","a":0.706,"j":0.11},{"g":"M","a":0.683,"j":0.03},{"g":"M","a":0.666,"j":-0.08},{"g":"M","a":0.637,"j":-0.03}],
"none":[]
},
"vconcat":[
{
"title":{"text":"A","anchor":"start","font":"Liberation Sans","fontSize":17,"fontWeight":"bold","offset":0},
"spacing":0,
"hconcat":[
{"width":1,"height":1,"data":{"name":"none"},"mark":{"type":"point","opacity":0},"encoding":{}},
{"spacing":18,
"hconcat":[
{"spacing":31,
"title":{"text":"BDI proportion score","orient":"bottom","anchor":"middle","fontSize":28,"offset":12,"dx":25},
"hconcat":[
{"width":281,"height":297,"title":{"text":"Global sample","fontSize":22,"offset":13},"data":{"name":"p1"},
"encoding":{"x":{"field":"x","type":"quantitative","scale":{"domain":[-0.05,1.05],"nice":false,"zero":false},"axis":{"values":[0,0.25,0.5,0.75,1],"format":".2f","title":null,"labelFontSize":22,"tickSize":7,"labelPadding":4,"labelFlush":false}},
"y":{"field":"d","type":"quantitative","scale":{"domain":[-0.148,3.105],"nice":false,"zero":false},"axis":{"values":[0,1,2,3],"title":"Density","titleFontSize":29,"labelFontSize":22,"tickSize":7,"labelPadding":6,"titlePadding":4}}},
"layer":[
{"transform":[{"filter":"datum.g=='F'"}],"mark":{"type":"area","interpolate":"monotone","fillOpacity":0.5},"encoding":{"y2":{"datum":0},"color":{"field":"g","type":"nominal","scale":{"domain":["F","M"],"range":["#32CD32","#213D8A"]},"legend":{"title":"Gender","orient":"none","legendX":447,"legendY":396,"direction":"horizontal","titleOrient":"left","titleFontSize":30,"titleFontWeight":"normal","titleColor":"#000000","titlePadding":13,"titleBaseline":"middle","labelFontSize":23,"labelColor":"#000000","labelOffset":14,"columnPadding":19,"symbolType":"square","symbolSize":800,"symbolStrokeColor":"#000000","symbolStrokeWidth":1.5,"labelExpr":"datum.value == 'F' ? 'Female' : 'Male'","encode":{"symbols":{"update":{"fillOpacity":{"value":0.5},"opacity":{"value":1},"stroke":{"value":"#000000"}}}}}}}},
{"transform":[{"filter":"datum.g=='F'"}],"mark":{"type":"line","interpolate":"monotone","color":"#000000","strokeWidth":1.3},"encoding":{}},
{"transform":[{"filter":"datum.g=='M'"}],"mark":{"type":"area","interpolate":"monotone","fillOpacity":0.5},"encoding":{"y2":{"datum":0},"color":{"field":"g","type":"nominal","scale":{"domain":["F","M"],"range":["#32CD32","#213D8A"]}}}},
{"transform":[{"filter":"datum.g=='M'"}],"mark":{"type":"line","interpolate":"monotone","color":"#000000","strokeWidth":1.3},"encoding":{}}
]},
{"width":282,"height":297,"title":{"text":"Undergraduates","fontSize":22,"offset":13},"data":{"name":"p2"},
"encoding":{"x":{"field":"x","type":"quantitative","scale":{"domain":[-0.05,1.05],"nice":false,"zero":false},"axis":{"values":[0,0.25,0.5,0.75,1],"format":".2f","title":null,"labelFontSize":22,"tickSize":7,"labelPadding":4,"labelFlush":false}},
"y":{"field":"d","type":"quantitative","scale":{"domain":[-0.148,3.105],"nice":false,"zero":false},"axis":null}},
"layer":[
{"transform":[{"filter":"datum.g=='F'"}],"mark":{"type":"area","interpolate":"monotone","fillOpacity":0.5},"encoding":{"y2":{"datum":0},"color":{"field":"g","type":"nominal","scale":{"domain":["F","M"],"range":["#32CD32","#213D8A"]}}}},
{"transform":[{"filter":"datum.g=='F'"}],"mark":{"type":"line","interpolate":"monotone","color":"#000000","strokeWidth":1.3},"encoding":{}},
{"transform":[{"filter":"datum.g=='M'"}],"mark":{"type":"area","interpolate":"monotone","fillOpacity":0.5},"encoding":{"y2":{"datum":0},"color":{"field":"g","type":"nominal","scale":{"domain":["F","M"],"range":["#32CD32","#213D8A"]}}}},
{"transform":[{"filter":"datum.g=='M'"}],"mark":{"type":"line","interpolate":"monotone","color":"#000000","strokeWidth":1.3},"encoding":{}}
]}
]},
{"spacing":26,
"title":{"text":"BAI proportion score","orient":"bottom","anchor":"middle","fontSize":28,"offset":12},
"hconcat":[
{"width":236,"height":297,"title":{"text":"Global sample","fontSize":22,"offset":13},"data":{"name":"p3"},
"encoding":{"x":{"field":"x","type":"quantitative","scale":{"domain":[-0.05,1.05],"nice":false,"zero":false},"axis":{"values":[0,0.25,0.5,0.75,1],"format":".2f","title":null,"labelFontSize":22,"tickSize":7,"labelPadding":4,"labelFlush":false}},
"y":{"field":"d","type":"quantitative","scale":{"domain":[-0.145,3.035],"nice":false,"zero":false},"axis":{"values":[0,1,2,3],"labels":false,"title":null,"tickSize":7}}},
"layer":[
{"transform":[{"filter":"datum.g=='F'"}],"mark":{"type":"area","interpolate":"monotone","fillOpacity":0.5},"encoding":{"y2":{"datum":0},"color":{"field":"g","type":"nominal","scale":{"domain":["F","M"],"range":["#32CD32","#213D8A"]}}}},
{"transform":[{"filter":"datum.g=='F'"}],"mark":{"type":"line","interpolate":"monotone","color":"#000000","strokeWidth":1.3},"encoding":{}},
{"transform":[{"filter":"datum.g=='M'"}],"mark":{"type":"area","interpolate":"monotone","fillOpacity":0.5},"encoding":{"y2":{"datum":0},"color":{"field":"g","type":"nominal","scale":{"domain":["F","M"],"range":["#32CD32","#213D8A"]}}}},
{"transform":[{"filter":"datum.g=='M'"}],"mark":{"type":"line","interpolate":"monotone","color":"#000000","strokeWidth":1.3},"encoding":{}}
]},
{"width":236,"height":297,"title":{"text":"Undergraduates","fontSize":22,"offset":13},"data":{"name":"p4"},
"encoding":{"x":{"field":"x","type":"quantitative","scale":{"domain":[-0.05,1.05],"nice":false,"zero":false},"axis":{"values":[0,0.25,0.5,0.75,1],"format":".2f","title":null,"labelFontSize":22,"tickSize":7,"labelPadding":4,"labelFlush":false}},
"y":{"field":"d","type":"quantitative","scale":{"domain":[-0.145,3.035],"nice":false,"zero":false},"axis":null}},
"layer":[
{"transform":[{"filter":"datum.g=='F'"}],"mark":{"type":"area","interpolate":"monotone","fillOpacity":0.5},"encoding":{"y2":{"datum":0},"color":{"field":"g","type":"nominal","scale":{"domain":["F","M"],"range":["#32CD32","#213D8A"]}}}},
{"transform":[{"filter":"datum.g=='F'"}],"mark":{"type":"line","interpolate":"monotone","color":"#000000","strokeWidth":1.3},"encoding":{}},
{"transform":[{"filter":"datum.g=='M'"}],"mark":{"type":"area","interpolate":"monotone","fillOpacity":0.5},"encoding":{"y2":{"datum":0},"color":{"field":"g","type":"nominal","scale":{"domain":["F","M"],"range":["#32CD32","#213D8A"]}}}},
{"transform":[{"filter":"datum.g=='M'"}],"mark":{"type":"line","interpolate":"monotone","color":"#000000","strokeWidth":1.3},"encoding":{}}
]}
]}
]}
]},
{
"title":{"text":"B","anchor":"start","font":"Liberation Sans","fontSize":17,"fontWeight":"bold","offset":3},
"spacing":0,
"hconcat":[
{"width":1,"height":1,"data":{"name":"none"},"mark":{"type":"point","opacity":0},"encoding":{}},
{"spacing":17,
"title":{"text":"Gender","orient":"bottom","anchor":"middle","fontSize":32,"offset":8,"dx":47},
"hconcat":[
{"width":559,"height":352,"title":{"text":"Active","fontSize":26,"offset":2},"data":{"name":"act"},
"layer":[
{"mark":{"type":"boxplot","extent":1.5,"size":190,"box":{"fillOpacity":0,"strokeWidth":1.5},"median":{"thickness":3},"rule":{"strokeWidth":1.5},"outliers":{"filled":true,"size":60,"opacity":1}},
"encoding":{"x":{"field":"g","type":"nominal","scale":{"domain":["F","M"],"paddingInner":0,"paddingOuter":0.1},"axis":{"title":null,"labelExpr":"datum.value == 'F' ? 'Female' : 'Male'","labelFontSize":24.5,"labelAngle":0,"tickSize":7,"labelPadding":7}},
"y":{"field":"a","type":"quantitative","scale":{"domain":[0.4718,1.0915],"nice":false,"zero":false},"axis":{"values":[0.5,0.6,0.7,0.8,0.9,1.0],"format":".1f","title":"Accuracy","titleFontSize":32,"labelFontSize":24.5,"tickSize":7,"labelPadding":6,"titlePadding":13}},
"fill":{"field":"g","type":"nominal","scale":{"domain":["F","M"],"range":["#32CD32","#233E8B"]},"legend":null},
"stroke":{"field":"g","type":"nominal","scale":{"domain":["F","M"],"range":["#32CD32","#233E8B"]},"legend":null}}},
{"mark":{"type":"point","filled":true,"size":64,"opacity":0.5},
"encoding":{"x":{"field":"g","type":"nominal","scale":{"domain":["F","M"],"paddingInner":0,"paddingOuter":0.1},"axis":{"title":null,"labelExpr":"datum.value == 'F' ? 'Female' : 'Male'","labelFontSize":24.5,"labelAngle":0,"tickSize":7,"labelPadding":7}},
"xOffset":{"field":"j","type":"quantitative","scale":{"domain":[-0.5,0.5]}},
"y":{"field":"a","type":"quantitative","scale":{"domain":[0.4718,1.0915],"nice":false,"zero":false},"axis":{"values":[0.5,0.6,0.7,0.8,0.9,1.0],"format":".1f","title":"Accuracy","titleFontSize":32,"labelFontSize":24.5,"tickSize":7,"labelPadding":6,"titlePadding":13}},
"color":{"field":"g","type":"nominal","scale":{"domain":["F","M"],"range":["#32CD32","#233E8B"]},"legend":null}}},
{"data":{"values":[{"x1":"F","x2":"M","y1":1.023,"y2":1.023},{"x1":"F","x2":"F","y1":1.023,"y2":1.011},{"x1":"M","x2":"M","y1":1.023,"y2":1.011}]},
"mark":{"type":"rule","color":"#000000","strokeWidth":1.3},
"encoding":{"x":{"field":"x1","type":"nominal","bandPosition":0.5,"scale":{"domain":["F","M"],"paddingInner":0,"paddingOuter":0.1},"axis":{"title":null,"labelExpr":"datum.value == 'F' ? 'Female' : 'Male'","labelFontSize":24.5,"labelAngle":0,"tickSize":7,"labelPadding":7}},"x2":{"field":"x2","bandPosition":0.5},
"y":{"field":"y1","type":"quantitative","scale":{"domain":[0.4718,1.0915],"nice":false,"zero":false},"axis":{"values":[0.5,0.6,0.7,0.8,0.9,1.0],"format":".1f","title":"Accuracy","titleFontSize":32,"labelFontSize":24.5,"tickSize":7,"labelPadding":6,"titlePadding":13}},"y2":{"field":"y2"}}},
{"data":{"values":[{"x1":"F","y":1.03,"lab":"***"}]},
"mark":{"type":"text","font":"Liberation Sans","fontSize":28,"baseline":"alphabetic","align":"center","color":"#000000"},
"encoding":{"x":{"field":"x1","type":"nominal","bandPosition":1,"scale":{"domain":["F","M"],"paddingInner":0,"paddingOuter":0.1},"axis":{"title":null,"labelExpr":"datum.value == 'F' ? 'Female' : 'Male'","labelFontSize":24.5,"labelAngle":0,"tickSize":7,"labelPadding":7}},
"y":{"field":"y","type":"quantitative","scale":{"domain":[0.4718,1.0915],"nice":false,"zero":false},"axis":{"values":[0.5,0.6,0.7,0.8,0.9,1.0],"format":".1f","title":"Accuracy","titleFontSize":32,"labelFontSize":24.5,"tickSize":7,"labelPadding":6,"titlePadding":13}},"text":{"field":"lab"}}}
]},
{"width":559,"height":352,"title":{"text":"Inhibitory","fontSize":26,"offset":2},"data":{"name":"inh"},
"layer":[
{"mark":{"type":"boxplot","extent":1.5,"size":190,"box":{"fillOpacity":0,"strokeWidth":1.5},"median":{"thickness":3},"rule":{"strokeWidth":1.5},"outliers":{"filled":true,"size":60,"opacity":1}},
"encoding":{"x":{"field":"g","type":"nominal","scale":{"domain":["F","M"],"paddingInner":0,"paddingOuter":0.1},"axis":{"title":null,"labelExpr":"datum.value == 'F' ? 'Female' : 'Male'","labelFontSize":24.5,"labelAngle":0,"tickSize":7,"labelPadding":7}},
"y":{"field":"a","type":"quantitative","scale":{"domain":[0.4718,1.0915],"nice":false,"zero":false},"axis":null},
"fill":{"field":"g","type":"nominal","scale":{"domain":["F","M"],"range":["#32CD32","#233E8B"]},"legend":null},
"stroke":{"field":"g","type":"nominal","scale":{"domain":["F","M"],"range":["#32CD32","#233E8B"]},"legend":null}}},
{"mark":{"type":"point","filled":true,"size":64,"opacity":0.5},
"encoding":{"x":{"field":"g","type":"nominal","scale":{"domain":["F","M"],"paddingInner":0,"paddingOuter":0.1},"axis":{"title":null,"labelExpr":"datum.value == 'F' ? 'Female' : 'Male'","labelFontSize":24.5,"labelAngle":0,"tickSize":7,"labelPadding":7}},
"xOffset":{"field":"j","type":"quantitative","scale":{"domain":[-0.5,0.5]}},
"y":{"field":"a","type":"quantitative","scale":{"domain":[0.4718,1.0915],"nice":false,"zero":false},"axis":null},
"color":{"field":"g","type":"nominal","scale":{"domain":["F","M"],"range":["#32CD32","#233E8B"]},"legend":null}}},
{"data":{"values":[{"x1":"F","x2":"M","y1":1.023,"y2":1.023},{"x1":"F","x2":"F","y1":1.023,"y2":1.011},{"x1":"M","x2":"M","y1":1.023,"y2":1.011}]},
"mark":{"type":"rule","color":"#000000","strokeWidth":1.3},
"encoding":{"x":{"field":"x1","type":"nominal","bandPosition":0.5,"scale":{"domain":["F","M"],"paddingInner":0,"paddingOuter":0.1},"axis":{"title":null,"labelExpr":"datum.value == 'F' ? 'Female' : 'Male'","labelFontSize":24.5,"labelAngle":0,"tickSize":7,"labelPadding":7}},"x2":{"field":"x2","bandPosition":0.5},
"y":{"field":"y1","type":"quantitative","scale":{"domain":[0.4718,1.0915],"nice":false,"zero":false},"axis":null},"y2":{"field":"y2"}}},
{"data":{"values":[{"x1":"F","y":1.03,"lab":"NS."}]},
"mark":{"type":"text","font":"Liberation Sans","fontSize":28,"baseline":"alphabetic","align":"center","color":"#000000"},
"encoding":{"x":{"field":"x1","type":"nominal","bandPosition":1,"scale":{"domain":["F","M"],"paddingInner":0,"paddingOuter":0.1},"axis":{"title":null,"labelExpr":"datum.value == 'F' ? 'Female' : 'Male'","labelFontSize":24.5,"labelAngle":0,"tickSize":7,"labelPadding":7}},
"y":{"field":"y","type":"quantitative","scale":{"domain":[0.4718,1.0915],"nice":false,"zero":false},"axis":null},"text":{"field":"lab"}}}
]}
]}
]}
],
"spacing":25,
"resolve":{"scale":{"color":"independent"},"legend":{"color":"independent"}}
}
